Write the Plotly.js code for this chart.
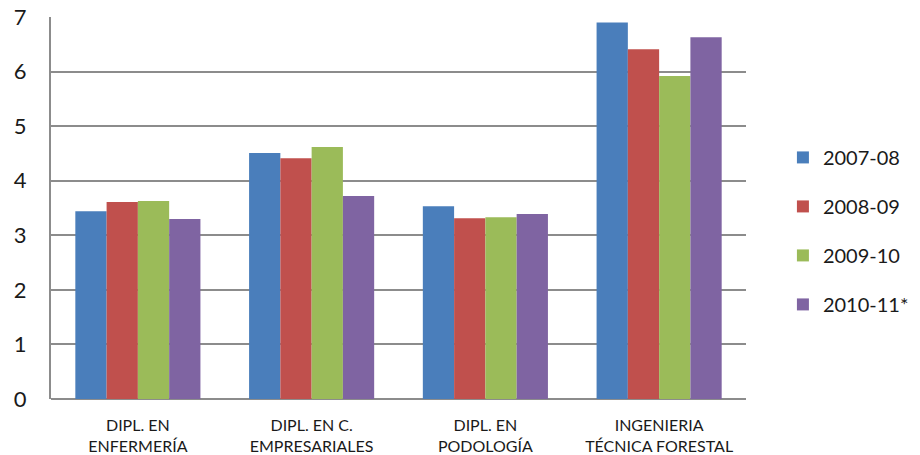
<!DOCTYPE html>
<html>
<head>
<meta charset="utf-8">
<script src="https://cdn.plot.ly/plotly-3.0.1.min.js"></script>
<style>html,body{margin:0;padding:0;background:#fff;}#chart{width:920px;height:455px;}</style>
</head>
<body>
<div id="chart"></div>
<script>
const categories = ["DIPL. EN<br>ENFERMERÍA", "DIPL. EN C.<br>EMPRESARIALES", "DIPL. EN<br>PODOLOGÍA", "INGENIERIA<br>TÉCNICA FORESTAL"];
const seriesNames = ["2007-08", "2008-09", "2009-10", "2010-11*"];
const v2007 = [3.44, 4.51, 3.53, 6.90];
const v2008 = [3.61, 4.41, 3.31, 6.41];
const v2009 = [3.63, 4.62, 3.33, 5.92];
const v2010 = [3.30, 3.72, 3.39, 6.63];
const yTicks = [0, 1, 2, 3, 4, 5, 6, 7];

const colors = ["#4A7EBB", "#C0504D", "#9BBB59", "#7F64A2"];
const values = [v2007, v2008, v2009, v2010];

const traces = values.map((v, i) => ({
  type: "bar",
  name: seriesNames[i],
  x: categories,
  y: v,
  legendgroup: "g" + i,
  marker: { color: colors[i], line: { width: 0 } },
  hoverinfo: "x+y+name"
}));

const layout = {
  width: 920, height: 455,
  margin: { l: 51, r: 174, t: 17, b: 56, autoexpand: false },
  paper_bgcolor: "#ffffff", plot_bgcolor: "#ffffff",
  font: { family: "Lato, 'Open Sans', sans-serif", color: "#1a1a1a" },
  barmode: "group",
  bargap: 0.28,
  bargroupgap: 0,
  showlegend: true,
  legend: {
    xref: "container", yref: "paper",
    x: 0.851, xanchor: "left", y: 0.44, yanchor: "middle",
    font: { size: 20, color: "#1a1a1a" },
    traceorder: "grouped",
    tracegroupgap: 20,
    bgcolor: "rgba(0,0,0,0)"
  },
  xaxis: {
    type: "category",
    showgrid: false,
    showline: false,
    ticks: "",
    tickfont: { size: 16, color: "#1a1a1a" },
    ticklabelstandoff: 15,
    zeroline: false,
    fixedrange: true
  },
  yaxis: {
    range: [0, 7],
    tickvals: yTicks,
    showgrid: true,
    gridcolor: "#8c8c8c",
    gridwidth: 2,
    showline: true,
    linecolor: "#8c8c8c",
    linewidth: 2,
    zeroline: true,
    zerolinecolor: "#8c8c8c",
    zerolinewidth: 2,
    ticks: "",
    tickfont: { size: 22, color: "#1a1a1a" },
    ticklabelstandoff: 18,
    fixedrange: true
  }
};

Plotly.newPlot("chart", traces, layout, { displayModeBar: false, staticPlot: true });
</script>
</body>
</html>
